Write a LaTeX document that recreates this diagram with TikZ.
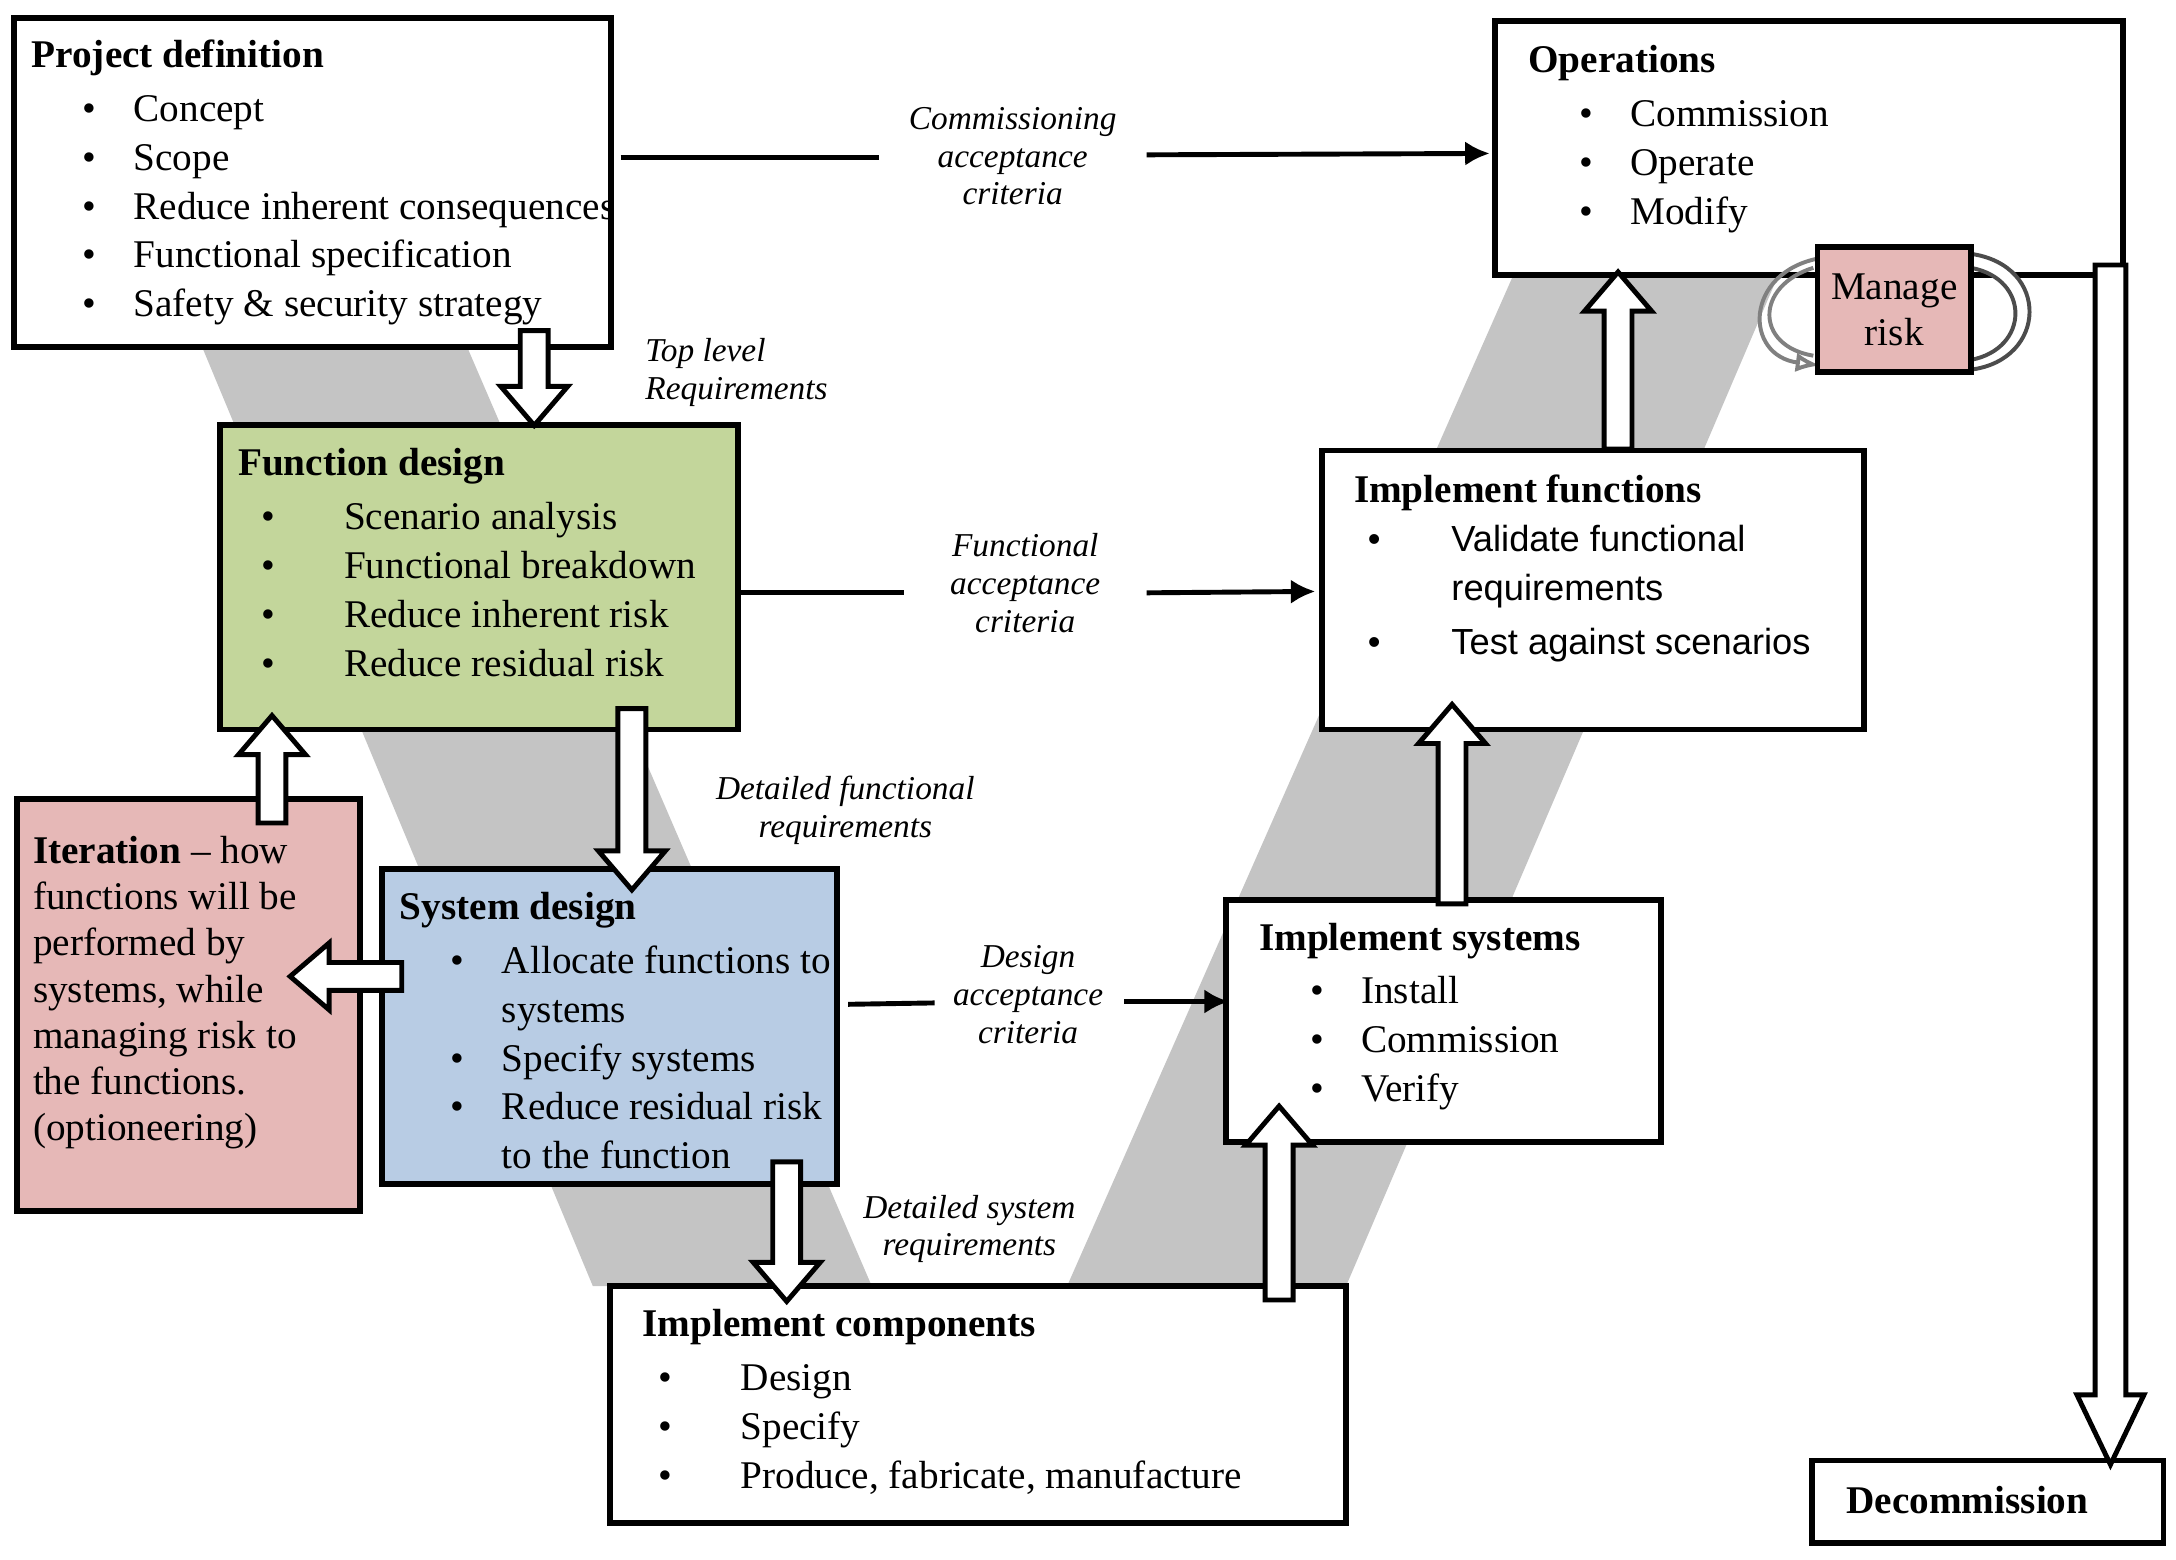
\documentclass[tikz,border=0pt]{standalone}
\usepackage{fontspec}
\setmainfont{Liberation Serif}
\newfontfamily\sansf{Liberation Sans}
\usetikzlibrary{fit,arrows.meta}
\definecolor{vgray}{HTML}{C4C4C4}
\definecolor{fgreen}{HTML}{C3D69B}
\definecolor{sblue}{HTML}{B8CCE4}
\definecolor{rpink}{HTML}{E6B8B7}
\newcommand{\bl}{\makebox[1.3em][l]{\textbullet}}
\newcommand{\blw}{\makebox[2.1em][l]{\textbullet}}
\tikzset{
 box/.style={draw, line width=1.2pt, inner sep=0pt},
 txt/.style={anchor=north west, align=left, inner sep=0pt, font=\fontsize{8}{9.96}\selectfont},
 lab/.style={align=center, inner sep=0pt, font=\fontsize{6.8}{7.7}\selectfont\itshape},
 thin/.style={line width=1pt, -{Latex[length=5pt,width=5pt]}},
 barr/.style={draw, fill=white, line width=1pt, line join=miter}
}
\newcommand{\varr}[3]{\path[barr] (#1-10,#2) -- (#1+10,#2) -- (#1+10,{#3-(#3-#2)/abs(#3-#2)*28}) -- (#1+24,{#3-(#3-#2)/abs(#3-#2)*28}) -- (#1,#3) -- (#1-24,{#3-(#3-#2)/abs(#3-#2)*28}) -- (#1-10,{#3-(#3-#2)/abs(#3-#2)*28}) -- cycle;}
\begin{document}
\begin{tikzpicture}[x=0.01cm,y=-0.01cm]
\useasboundingbox (0,0) rectangle (1560,1118);
\fill[vgray] (145,249) -- (335,249) -- (625,922) -- (425,922) -- cycle;
\fill[vgray] (765,922) -- (965,922) -- (1275,197) -- (1085,197) -- cycle;
\node[box, fill=white, fit={(10,13)(438,249)}] (pd) {};
\node[box, fill=fgreen, fit={(158,305)(529,523)}] (fd) {};
\node[box, fill=rpink, fit={(12,573)(258,868)}] (it) {};
\node[box, fill=sblue, fit={(274,623)(600,849)}] (sd) {};
\node[box, fill=white, fit={(437,922)(965,1092)}] (ic) {};
\node[box, fill=white, fit={(879,645)(1191,819)}] (is) {};
\node[box, fill=white, fit={(948,323)(1336,523)}] (if) {};
\node[box, fill=white, fit={(1072,15)(1522,197)}] (op) {};
\node[box, fill=white, fit={(1299,1047)(1551,1106)}] (dc) {};
\node[txt] (tpd) at (22,28) {\textbf{Project definition}\\[1pt]
\hspace*{1.3em}\bl Concept\\\hspace*{1.3em}\bl Scope\\\hspace*{1.3em}\bl Reduce inherent consequences\\\hspace*{1.3em}\bl Functional specification\\\hspace*{1.3em}\bl Safety \& security strategy};
\node[txt] (tfd) at (170,321) {\textbf{Function design}\\[1pt]
\hspace*{0.6em}\blw Scenario analysis\\\hspace*{0.6em}\blw Functional breakdown\\\hspace*{0.6em}\blw Reduce inherent risk\\\hspace*{0.6em}\blw Reduce residual risk};
\node[txt, font=\fontsize{8}{9.4}\selectfont] (tit) at (23,599) {\textbf{Iteration} -- how\\functions will be\\performed by\\systems, while\\managing risk to\\the functions.\\(optioneering)};
\node[txt] (tsd) at (286,639) {\textbf{System design}\\[1pt]
\hspace*{1.3em}\bl Allocate functions to\\\hspace*{2.6em}systems\\\hspace*{1.3em}\bl Specify systems\\\hspace*{1.3em}\bl Reduce residual risk\\\hspace*{2.6em}to the function};
\node[txt] (tic) at (460,938) {\textbf{Implement components}\\[1pt]
\hspace*{0.4em}\blw Design\\\hspace*{0.4em}\blw Specify\\\hspace*{0.4em}\blw Produce, fabricate, manufacture};
\node[txt] (tis) at (902,661) {\textbf{Implement systems}\\[1pt]
\hspace*{1.3em}\bl Install\\\hspace*{1.3em}\bl Commission\\\hspace*{1.3em}\bl Verify};
\node[txt] (tif) at (970,340) {\textbf{Implement functions}};
\node[txt, font=\sansf\fontsize{7.4}{10}\selectfont] (tif2) at (980,376) {\makebox[2.3em][l]{\textbullet}Validate functional\\\hspace*{2.3em}requirements\\[1pt]\makebox[2.3em][l]{\textbullet}Test against scenarios};
\node[txt] (top) at (1095,32) {\textbf{Operations}\\[1pt]
\hspace*{1.3em}\bl Commission\\\hspace*{1.3em}\bl Operate\\\hspace*{1.3em}\bl Modify};
\node[txt] (tdc) at (1323,1065) {\textbf{Decommission}};
\node[lab] (l1) at (726,112) {Commissioning\\acceptance\\criteria};
\node[lab] (l2) at (735,418) {Functional\\acceptance\\criteria};
\node[lab] (l3) at (737,713) {Design\\acceptance\\criteria};
\node[lab, align=left, anchor=west] (l4) at (462,267) {Top level\\Requirements};
\node[lab] (l5) at (606,581) {Detailed functional\\requirements};
\node[lab] (l6) at (695,881) {Detailed system\\requirements};
\coordinate (a1) at (445,113); \coordinate (a1b) at (630,113);
\coordinate (a1c) at (822,111); \coordinate (a1d) at (1068,110);
\draw[line width=1pt] (a1) -- (a1b); \draw[thin] (a1c) -- (a1d);
\coordinate (a2) at (531,425); \coordinate (a2b) at (648,425);
\coordinate (a2c) at (822,425); \coordinate (a2d) at (943,424);
\draw[line width=1pt] (a2) -- (a2b); \draw[thin] (a2c) -- (a2d);
\coordinate (a3) at (608,720); \coordinate (a3b) at (670,719);
\coordinate (a3c) at (806,718); \coordinate (a3d) at (881,718);
\draw[line width=1pt] (a3) -- (a3b); \draw[thin] (a3c) -- (a3d);
\varr{383}{237}{305}
\varr{453}{508}{638}
\varr{564}{833}{933}
\varr{195}{590}{513}
\varr{917}{932}{793}
\varr{1041}{648}{505}
\varr{1160}{322}{195}
\path[barr] (288,690) -- (288,710) -- (236,710) -- (236,724) -- (208,700) -- (236,676) -- (236,690) -- cycle;
\path[barr] (1502,190) -- (1524,190) -- (1524,1000) -- (1537,1000) -- (1513,1050) -- (1489,1000) -- (1502,1000) -- cycle;
\draw[gray, line width=0.8pt, -{Latex[length=5pt,width=4pt,open]}] (1305,185) .. controls (1250,195) and (1250,255) .. (1305,262);
\draw[gray, line width=0.8pt] (1300,192) .. controls (1258,205) and (1258,248) .. (1300,255);
\draw[black!70, line width=0.8pt, fill=white] (1413,182) .. controls (1470,190) and (1468,258) .. (1413,265) -- (1413,258) .. controls (1455,250) and (1456,200) .. (1413,192) -- cycle;
\node[box, fill=rpink, fit={(1303,177)(1413,267)}] (mr) {};
\node[align=center, inner sep=0pt, font=\fontsize{8}{9.5}\selectfont] (tmr) at (mr.center) {Manage\\risk};
\end{tikzpicture}
\end{document}
